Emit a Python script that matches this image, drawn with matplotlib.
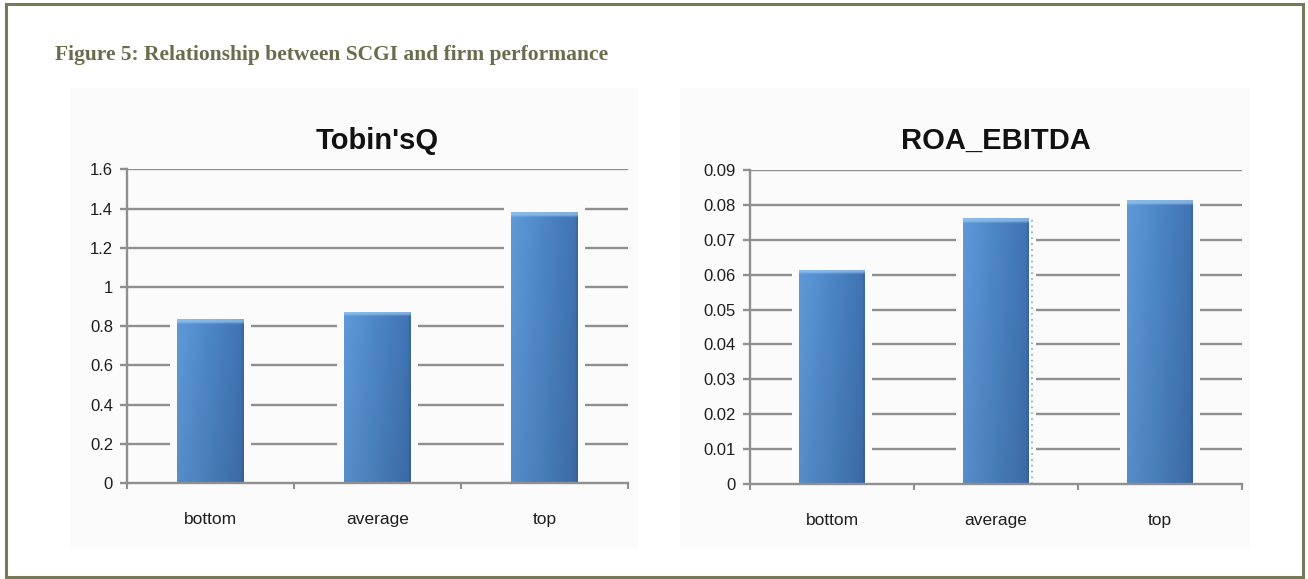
import numpy as np
import matplotlib
matplotlib.use("Agg")
import matplotlib.pyplot as plt
from matplotlib.patches import Rectangle

# ---- data ----
categories = ["bottom", "average", "top"]
tobins_q = [0.835, 0.875, 1.383]
roa_ebitda = [0.0614, 0.0762, 0.0814]

tobin_ticks = [0, 0.2, 0.4, 0.6, 0.8, 1, 1.2, 1.4, 1.6]
tobin_tick_labels = ["0", "0.2", "0.4", "0.6", "0.8", "1", "1.2", "1.4", "1.6"]
roa_ticks = [0, 0.01, 0.02, 0.03, 0.04, 0.05, 0.06, 0.07, 0.08, 0.09]
roa_tick_labels = ["0", "0.01", "0.02", "0.03", "0.04", "0.05", "0.06", "0.07", "0.08", "0.09"]

fig_title = "Figure 5: Relationship between SCGI and firm performance"

# ---- style ----
W, H = 1308, 579
DPI = 100
GRID = "#8f8f8f"
PANEL = "#fbfbfb"
BORDER = "#767a58"
TITLE_COLOR = "#6a6d4b"
SANS = ["Liberation Sans", "DejaVu Sans"]
NARROW = ["Liberation Sans Narrow", "Liberation Sans", "DejaVu Sans"]

fig = plt.figure(figsize=(W / DPI, H / DPI), dpi=DPI)
fig.patch.set_facecolor("white")


def px_rect(x0, y0, x1, y1, **kw):
    """Rectangle given in pixel coordinates measured from the top-left."""
    return Rectangle((x0 / W, 1 - y1 / H), (x1 - x0) / W, (y1 - y0) / H,
                     transform=fig.transFigure, **kw)


# outer frame and the two chart panels (panels sit behind the axes)
fig.patches.append(px_rect(6, 4, 1303, 577, fill=False, edgecolor=BORDER,
                           linewidth=2.2, zorder=10))
fig.patches.append(px_rect(70, 88, 638, 548, facecolor=PANEL, edgecolor="none", zorder=-2))
fig.patches.append(px_rect(680, 88, 1250, 548, facecolor=PANEL, edgecolor="none", zorder=-2))

fig.text(55 / W, 1 - 55 / H, fig_title, family=["Liberation Serif", "DejaVu Serif"],
         fontweight="bold", fontsize=15.5, color=TITLE_COLOR, ha="left", va="center")


def bar_image(ax, rect, px_h):
    """Fill a bar patch with a blue shaded gradient and a soft light top cap."""
    x0, y0 = rect.get_x(), rect.get_y()
    w, h = rect.get_width(), rect.get_height()
    nx, ny = 60, 400
    u = np.linspace(0, 1, nx)
    left = np.array([0.37, 0.60, 0.85])
    mid = np.array([0.32, 0.55, 0.80])
    right = np.array([0.25, 0.45, 0.70])
    prof = np.where(u[:, None] < 0.35,
                    left + (mid - left) * (u[:, None] / 0.35),
                    mid + (right - mid) * ((u[:, None] - 0.35) / 0.65))
    prof[-2:] = prof[-2:] * 0.92
    v = np.linspace(0, 1, ny)[:, None, None]  # 0 at bottom, 1 at top
    img = prof[None, :, :] * (0.92 + 0.08 * v)
    # distance from the top of the bar in pixels
    d = (1 - v[:, 0, 0]) * h / px_h
    wgt = np.clip(1 - (d - 2.5) / 2.5, 0, 1) * 0.7
    cap = np.array([0.62, 0.79, 0.95])
    img = img * (1 - wgt[:, None, None]) + cap * wgt[:, None, None]
    img = np.clip(img, 0, 1)
    im = ax.imshow(img, extent=(x0, x0 + w, y0, y0 + h), origin="lower",
                   aspect="auto", zorder=3, interpolation="bilinear")
    im.set_clip_path(rect)


def draw_chart(rect_px, values, ymax, ticks, tick_labels, title, title_family,
               dotted_after=None):
    x0, y_top, x1, y_zero = rect_px
    ax = fig.add_axes([x0 / W, 1 - y_zero / H, (x1 - x0) / W, (y_zero - y_top) / H])
    ax.set_facecolor("none")
    ax.set_xlim(-0.5, len(values) - 0.5)
    ax.set_ylim(0, ymax)
    ax_h_px = y_zero - y_top
    ax_w_px = x1 - x0
    ppx_y = ymax / ax_h_px
    ppx_x = len(values) / ax_w_px

    # gridlines
    for t in ticks[1:]:
        ax.axhline(t, color=GRID, linewidth=1.7, zorder=1)

    xs = np.arange(len(values))
    bw = 0.40
    gap_x = 7 * ppx_x
    gap_y = 5 * ppx_y
    # clearance around each bar
    ax.bar(xs, [v + gap_y for v in values], width=bw + 2 * gap_x, color=PANEL,
           edgecolor="none", zorder=2)
    bars = ax.bar(xs, values, width=bw, color="#4f88c9", edgecolor="none", zorder=2.5)
    for r in bars:
        bar_image(ax, r, ppx_y)
        r.set_alpha(0)
    ax.set_xlim(-0.5, len(values) - 0.5)
    ax.set_ylim(0, ymax)

    if dotted_after is not None:
        r = bars[dotted_after]
        xd = r.get_x() + r.get_width() + 3 * ppx_x
        ax.plot([xd, xd], [0, values[dotted_after]], color="#7ea5d3",
                linestyle=(0, (1, 2.5)), linewidth=1.2, zorder=3)

    for s in ("top", "right"):
        ax.spines[s].set_visible(False)
    for s in ("left", "bottom"):
        ax.spines[s].set_color(GRID)
        ax.spines[s].set_linewidth(1.7)
        ax.spines[s].set_zorder(4)

    ax.set_yticks(ticks)
    ax.set_yticklabels(tick_labels, family=SANS, fontsize=12, color="#1e1e1e")
    ax.tick_params(axis="y", length=5, width=1.7, color=GRID, pad=5)

    ax.set_xticks(np.arange(-0.5, len(values), 1.0))
    ax.set_xticklabels([])
    ax.tick_params(axis="x", length=4, width=1.5, color=GRID, direction="out")
    ax.set_xticks(xs, minor=True)
    ax.set_xticklabels(categories, minor=True, family=SANS, fontsize=12.5, color="#1e1e1e")
    ax.tick_params(axis="x", which="minor", length=0, pad=21)

    ax.set_title(title, family=title_family, fontweight="bold", fontsize=21,
                 color="#111111", pad=15)
    return ax


draw_chart((127, 169.5, 628, 483), tobins_q, 1.6, tobin_ticks, tobin_tick_labels,
           "Tobin'sQ", SANS)
draw_chart((750, 170, 1242, 484), roa_ebitda, 0.09, roa_ticks, roa_tick_labels,
           "ROA_EBITDA", NARROW, dotted_after=1)

fig.savefig("out.png", dpi=DPI, facecolor=fig.get_facecolor())
